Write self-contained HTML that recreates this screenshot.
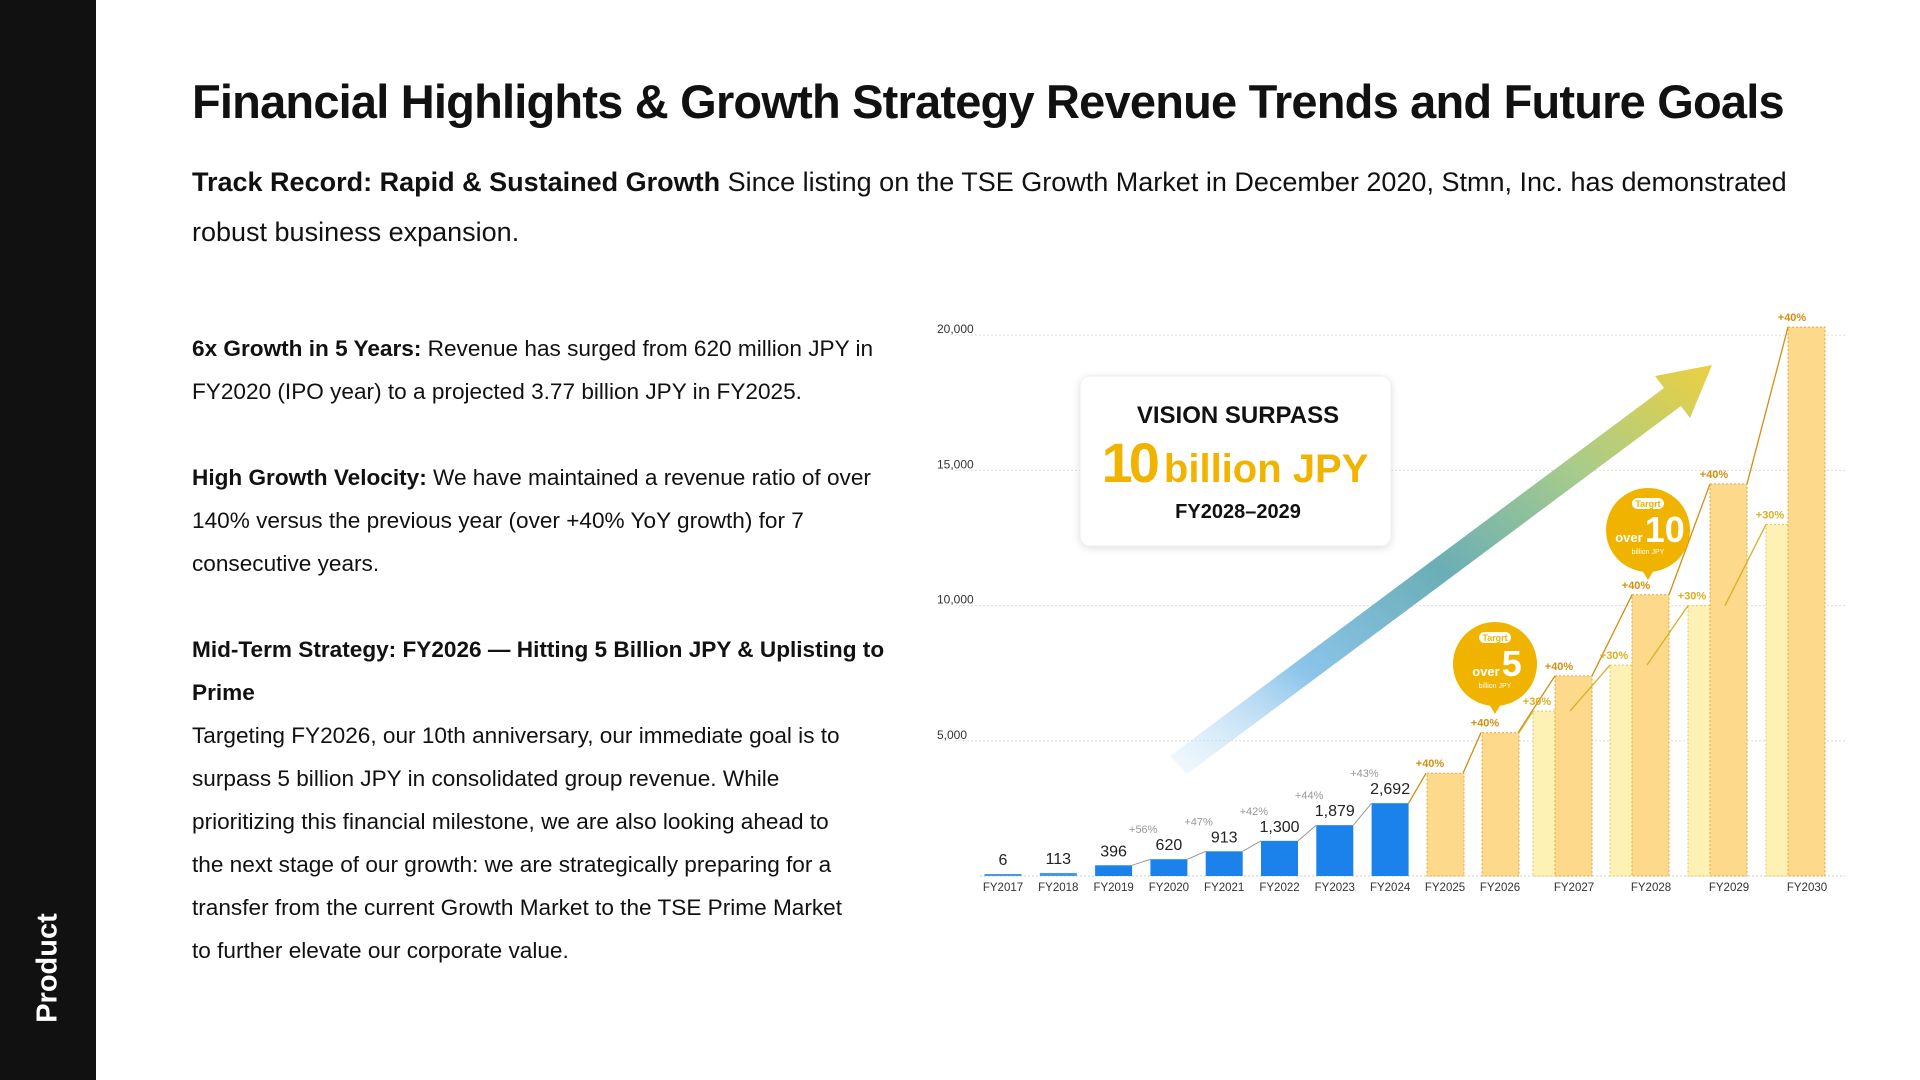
<!DOCTYPE html>
<html><head><meta charset="utf-8"><style>
html,body{margin:0;padding:0;}
body{width:1920px;height:1080px;position:relative;overflow:hidden;background:#fff;font-family:"Liberation Sans",sans-serif;color:#111;}
#side{position:absolute;left:0;top:0;width:96px;height:1080px;background:#111;}
#side-label{position:absolute;left:48px;top:968px;transform:translate(-50%,-50%) rotate(-90deg);color:#fff;font-size:29px;font-weight:bold;white-space:nowrap;}
h1{position:absolute;left:192px;top:74px;margin:0;font-size:47px;font-weight:bold;letter-spacing:-0.8px;white-space:nowrap;}
#sub{position:absolute;left:192px;top:157px;width:1620px;font-size:27px;line-height:50px;margin:0;}
#left{position:absolute;left:192px;top:327px;width:760px;font-size:22.6px;line-height:43px;white-space:nowrap;}
#left p{margin:0 0 43px 0;}
#chart{position:absolute;left:0;top:0;}
</style></head><body>
<div id="side"><div id="side-label">Product</div></div>
<h1>Financial Highlights &amp; Growth Strategy Revenue Trends and Future Goals</h1>
<p id="sub"><b>Track Record: Rapid &amp; Sustained Growth</b> Since listing on the TSE Growth Market in December 2020, Stmn, Inc. has demonstrated robust business expansion.</p>
<div id="left">
<p><b>6x Growth in 5 Years:</b> Revenue has surged from 620 million JPY in<br>FY2020 (IPO year) to a projected 3.77 billion JPY in FY2025.</p>
<p><b>High Growth Velocity:</b> We have maintained a revenue ratio of over<br>140% versus the previous year (over +40% YoY growth) for 7<br>consecutive years.</p>
<p><b>Mid-Term Strategy: FY2026 — Hitting 5 Billion JPY &amp; Uplisting to<br>Prime</b><br>Targeting FY2026, our 10th anniversary, our immediate goal is to<br>surpass 5 billion JPY in consolidated group revenue. While<br>prioritizing this financial milestone, we are also looking ahead to<br>the next stage of our growth: we are strategically preparing for a<br>transfer from the current Growth Market to the TSE Prime Market<br>to further elevate our corporate value.</p>
</div>
<svg id="chart" width="1920" height="1080" xmlns="http://www.w3.org/2000/svg">
<defs>
<linearGradient id="ag" x1="0" y1="1" x2="1" y2="0">
<stop offset="0" stop-color="#d6ebfb" stop-opacity="0.3"/><stop offset="0.25" stop-color="#8cc4ea"/><stop offset="0.5" stop-color="#6aaeb6"/><stop offset="0.75" stop-color="#a8cc8a"/><stop offset="1" stop-color="#ecd040"/>
</linearGradient>
<filter id="sh" x="-10%" y="-10%" width="120%" height="130%"><feDropShadow dx="0" dy="2" stdDeviation="4" flood-color="#000" flood-opacity="0.12"/></filter>
</defs>
<g id="grid"></g>
<g id="arrow">
<polygon points="1170,756 1664,388 1655,376 1712,365 1690,418 1681,406 1187,774" fill="url(#ag)"/>
</g>
<g id="bars"></g>
<g id="callout">
<rect x="1080" y="376" width="311" height="170" rx="10" fill="#fff" stroke="#eee" filter="url(#sh)"/>
<text x="1238" y="423" text-anchor="middle" font-size="24" font-weight="bold" fill="#111">VISION SURPASS</text>
<text x="1235" y="482" text-anchor="middle" fill="#f0b400" font-weight="bold"><tspan font-size="56" letter-spacing="-4">10</tspan><tspan font-size="40" dx="8">billion JPY</tspan></text>
<text x="1238" y="518" text-anchor="middle" font-size="20" font-weight="bold" fill="#111">FY2028–2029</text>
</g>
<g id="badges"></g>
</svg>
<script>
const years=["FY2017","FY2018","FY2019","FY2020","FY2021","FY2022","FY2023","FY2024"];
const actual=[6,113,396,620,913,1300,1879,2692];
const actualLabels=["6","113","396","620","913","1,300","1,879","2,692"];
const actualGrowth=["","","","+56%","+47%","+42%","+44%","+43%"];
const futureYears=["FY2025","FY2026","FY2027","FY2028","FY2029","FY2030"];
const plan40=[3800,5300,7400,10400,14500,20300];
const plan30=[null,null,6100,7800,10000,13000];
const yTicks=[5000,10000,15000,20000];
const yTickLabels=["5,000","10,000","15,000","20,000"];

const NS="http://www.w3.org/2000/svg";
const base=876, pxPer=135.2/5000;
const y=v=>base-v*pxPer;
const xActual=i=>1003+i*55.3;
const xFutureCenter=[1445,1500,1574,1651,1729,1807];
function mk(tag,attrs,parent,txt){const e=document.createElementNS(NS,tag);for(const k in attrs)e.setAttribute(k,attrs[k]);if(txt!==undefined)e.textContent=txt;parent.appendChild(e);return e;}
const grid=document.getElementById('grid'), bars=document.getElementById('bars');
yTicks.forEach((t,i)=>{
 const l=mk('line',{x1:955,x2:1845,y1:y(t),y2:y(t),stroke:'#ddd','stroke-dasharray':'2,2'},grid);
 
 
 const tx=mk('text',{x:937,y:y(t)-2,'font-size':12,fill:'#333'},grid,yTickLabels[i]);
 
 
});
mk('line',{x1:980,x2:1845,y1:base,y2:base,stroke:'#ccc','stroke-dasharray':'2,2'},grid);
const bw=37;
actual.forEach((v,i)=>{
 const cx=xActual(i);
 const h=Math.max(base-y(v),2);
 const r=mk('rect',{x:cx-bw/2,y:base-h,width:bw,height:h,fill:i<2?'#4a98dc':'#1a82ea'},bars);
 
 
 const vl=mk('text',{x:cx,y:base-h-9,'text-anchor':'middle','font-size':16,fill:'#222'},bars,actualLabels[i]);
 
 
 const xl=mk('text',{x:cx,y:891,'text-anchor':'middle','font-size':11.5,fill:'#333'},bars,years[i]);
 
 
 if(i>=3){
  const px=xActual(i-1)+bw/2;
  mk('line',{x1:px,y1:y(actual[i-1]),x2:cx-bw/2,y2:y(v),stroke:'#999','stroke-width':1},bars);
  const g=mk('text',{x:(px+cx-bw/2)/2+2,y:y(v)-26,'text-anchor':'middle','font-size':11,fill:'#999'},bars,actualGrowth[i]);
  
  
 }
});
const fw=37;
plan30.forEach((v,i)=>{
 if(v===null)return;
 const left=xFutureCenter[i]-41;
 const r=mk('rect',{x:left,y:y(v),width:fw,height:base-y(v),fill:'#fdf1b3',stroke:'#e8c560','stroke-dasharray':'2,2','stroke-width':1},bars);
 
 
});
plan40.forEach((v,i)=>{
 const left=plan30[i]===null?xFutureCenter[i]-18:xFutureCenter[i]-19;
 const r=mk('rect',{x:left,y:y(v),width:fw,height:base-y(v),fill:'#fdd98c',stroke:'#e0a840','stroke-dasharray':'2,2','stroke-width':1},bars);
 
 
 const xl=mk('text',{x:xFutureCenter[i],y:891,'text-anchor':'middle','font-size':11.5,fill:'#333'},bars,futureYears[i]);
 
 
});
function lineSeries(vals,offsetL,color,lbl,prevX,prevV){
 let px=prevX, pv=prevV;
 vals.forEach((v,i)=>{
  if(v===null)return;
  const left=xFutureCenter[i]+offsetL;
  if(px!==null){
   mk('line',{x1:px,y1:y(pv),x2:left,y2:y(v),stroke:color,'stroke-width':1.3},bars);
  }
  const t=mk('text',{x:left+4,y:y(v)-6,'text-anchor':'middle','font-size':11,fill:color,'font-weight':'bold'},bars,lbl);
  
  
  px=left+fw; pv=v;
 });
}
lineSeries(plan40,-19,'#d48e10','+40%',xActual(7)+bw/2,actual[7]);
lineSeries(plan30,-41,'#d8b020','+30%',1519,plan40[1]);
const badges=document.getElementById('badges');
function badge(cx,cy,num,name){
 const g=mk('g',{},badges);
 
 
 mk('circle',{cx:cx,cy:cy,r:42,fill:'#f0b400'},g);
 mk('polygon',{points:`${cx-6},${cy+40} ${cx+6},${cy+40} ${cx},${cy+50}`,fill:'#f0b400'},g);
 mk('rect',{x:cx-16,y:cy-32,width:32,height:11,rx:5.5,fill:'#fff'},g);
 mk('text',{x:cx,y:cy-23,'text-anchor':'middle','font-size':9,fill:'#f0b400','font-weight':'bold'},g,'Targrt');
 const t=mk('text',{x:cx+2,y:cy+12,'text-anchor':'middle',fill:'#fff','font-weight':'bold'},g);
 mk('tspan',{'font-size':13},t,'over');
 mk('tspan',{'font-size':36,dx:2},t,num);
 mk('text',{x:cx,y:cy+24,'text-anchor':'middle','font-size':7,fill:'#fff'},g,'billion JPY');
}
badge(1495,664,'5','target-5-badge');
badge(1648,530,'10','target-10-badge');
</script>
</body></html>
